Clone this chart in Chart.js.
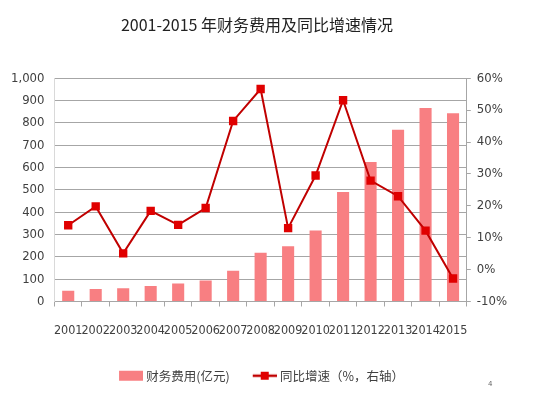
<!DOCTYPE html>
<html>
<head>
<meta charset="utf-8">
<script src="https://cdn.jsdelivr.net/npm/chart.js@4"></script>
<style>
  html, body { margin: 0; padding: 0; background: #fff; }
  #wrap { width: 545px; height: 398px; position: relative; }
  #pageNo { position: absolute; left: 488px; top: 380px; font: 7px "DejaVu Sans"; color: #666; }
</style>
</head>
<body>
<div id="wrap">
  <canvas id="chart" width="545" height="398"></canvas>
  <div id="pageNo">4</div>
</div>
<script>
const years = ["2001", "2002", "2003", "2004", "2005", "2006", "2007", "2008",
  "2009", "2010", "2011", "2012", "2013", "2014", "2015"]
const financeCost = [48, 56, 59, 69, 81, 94, 138, 218, 247, 318, 490, 625, 769, 866, 843]
const yoyGrowth = [13.9, 19.8, 5.1, 18.4, 14.0, 19.3, 46.6, 56.6, 13.0, 29.5, 53.1, 27.9, 23.0, 12.2, -2.8]
const leftTicks = [0, 1000, 100]
const rightTicks = [-10, 60, 10]

const barColor = "#F87F82"
const lineColor = "#C00000"
const markColor = "#E00000"
const tickFont = "'DejaVu Sans Condensed', 'Liberation Sans', sans-serif"

// legend swatches: 36px canvas, drawing in the right 24px so the
// swatch hugs its text and items sit further apart
function legendIcon(kind) {
  const c = document.createElement("canvas")
  c.width = 36
  c.height = 12
  const g = c.getContext("2d")
  if (kind === "bar") {
    g.fillStyle = barColor
    g.fillRect(12, 1, 24, 10)
  } else {
    g.strokeStyle = lineColor
    g.lineWidth = 2.5
    g.beginPath()
    g.moveTo(12, 6)
    g.lineTo(36, 6)
    g.stroke()
    g.fillStyle = markColor
    g.fillRect(20, 2, 8, 8)
  }
  return c
}

new Chart(document.getElementById("chart"), {
  data: {
    labels: years,
    datasets: [
      {
        type: "line",
        label: "同比增速（%，右轴）",
        data: yoyGrowth,
        yAxisID: "y1",
        borderColor: lineColor,
        borderWidth: 2,
        tension: 0,
        pointStyle: "rect",
        pointRadius: 4.5,
        pointBackgroundColor: markColor,
        pointBorderColor: markColor,
        order: 0
      },
      {
        type: "bar",
        label: "财务费用(亿元)",
        data: financeCost,
        yAxisID: "y",
        backgroundColor: barColor,
        categoryPercentage: 1,
        barPercentage: 0.44,
        order: 1
      }
    ]
  },
  options: {
    responsive: false,
    animation: false,
    layout: { padding: { left: 1, right: 32, top: 8, bottom: 6 } },
    plugins: {
      title: {
        display: true,
        text: "2001-2015 年财务费用及同比增速情况",
        color: "#222",
        font: { family: "Noto Sans CJK SC", size: 16, weight: "normal" },
        padding: { top: 7, bottom: 44 }
      },
      legend: {
        position: "bottom",
        reverse: true,
        labels: {
          color: "#404040",
          font: { family: "Noto Sans CJK SC", size: 12.5 },
          usePointStyle: true,
          pointStyleWidth: 30,
          padding: 14,
          generateLabels: chart => chart.data.datasets.map((ds, i) => ({
            text: ds.label,
            pointStyle: legendIcon(ds.type),
            datasetIndex: i,
            hidden: false,
            fontColor: "#404040",
            lineWidth: 0
          }))
        }
      },
      tooltip: { enabled: false }
    },
    scales: {
      x: {
        offset: true,
        grid: {
          offset: true,
          drawOnChartArea: false,
          tickLength: 5,
          color: "#A6A6A6"
        },
        border: { color: "#A6A6A6" },
        ticks: {
          autoSkip: false,
          maxRotation: 0,
          padding: 17,
          color: "#404040",
          font: { family: tickFont, size: 12.5 }
        }
      },
      y: {
        position: "left",
        min: leftTicks[0],
        max: leftTicks[1],
        ticks: {
          stepSize: leftTicks[2],
          padding: 10,
          color: "#404040",
          font: { family: tickFont, size: 13 },
          callback: v => v.toLocaleString("en-US")
        },
        grid: { color: "#A6A6A6", tickLength: 0 },
        border: { color: "#D9D9D9" }
      },
      y1: {
        position: "right",
        min: rightTicks[0],
        max: rightTicks[1],
        ticks: {
          stepSize: rightTicks[2],
          padding: 6,
          color: "#404040",
          font: { family: tickFont, size: 13 },
          callback: v => `${v}%`
        },
        grid: { drawOnChartArea: false, tickLength: 4, color: "#A6A6A6" },
        border: { color: "#A6A6A6" }
      }
    }
  }
})
</script>
</body>
</html>
